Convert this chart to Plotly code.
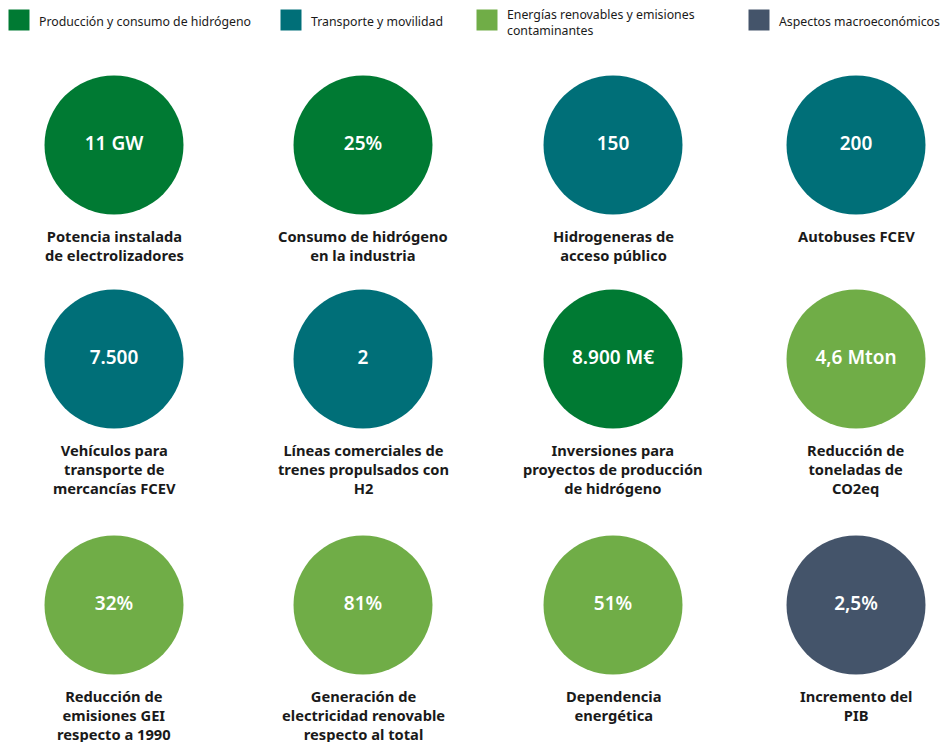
import plotly.graph_objects as go

# ---- data ----
values = ["11 GW", "25%", "150", "200",
          "7.500", "2", "8.900 M€", "4,6 Mton",
          "32%", "81%", "51%", "2,5%"]
labels = ["Potencia instalada<br>de electrolizadores",
          "Consumo de hidrógeno<br>en la industria",
          "Hidrogeneras de<br>acceso público",
          "Autobuses FCEV",
          "Vehículos para<br>transporte de<br>mercancías FCEV",
          "Líneas comerciales de<br>trenes propulsados con<br>H2",
          "Inversiones para<br>proyectos de producción<br>de hidrógeno",
          "Reducción de<br>toneladas de<br>CO2eq",
          "Reducción de<br>emisiones GEI<br>respecto a 1990",
          "Generación de<br>electricidad renovable<br>respecto al total",
          "Dependencia<br>energética",
          "Incremento del<br>PIB"]
categories = ["Producción y consumo de hidrógeno",
              "Transporte y movilidad",
              "Energías renovables y emisiones<br>contaminantes",
              "Aspectos macroeconómicos"]
item_category = [0, 0, 1, 1,
                 1, 1, 0, 2,
                 2, 2, 2, 3]

# ---- style / layout ----
cat_colors = ["#007A33", "#006F78", "#70AD47", "#44546A"]
W, H = 949, 742
OFFX, OFFY = 8, 6  # page body offset
col_x = [114, 363, 613, 856]
row_y = [143, 357, 603]
legend_x = [8, 280, 476, 748]
circle_d = 139

fig = go.Figure()

xs, ys, cols = [], [], []
for i in range(len(values)):
    r, c = divmod(i, 4)
    xs.append(col_x[c])
    ys.append(row_y[r])
    cols.append(cat_colors[item_category[i]])

fig.add_trace(go.Scatter(
    x=xs, y=ys, mode="markers+text",
    marker=dict(size=circle_d, color=cols, line=dict(width=0)),
    text=values, textposition="middle center",
    textfont=dict(family="Noto Sans", size=19, color="white", weight=600),
    hoverinfo="skip", showlegend=False,
))

for i, lab in enumerate(labels):
    fig.add_annotation(
        x=xs[i], y=ys[i] + 80, text=lab, showarrow=False,
        xanchor="center", yanchor="top", align="center",
        font=dict(family="Noto Sans", size=14.7, color="#1a1a1a", weight=700),
        borderpad=0,
    )

# legend
fig.add_trace(go.Scatter(
    x=[lx + 11 for lx in legend_x], y=[18] * 4, mode="markers",
    marker=dict(symbol="square", size=21, color=cat_colors, line=dict(width=0)),
    hoverinfo="skip", showlegend=False,
))
for k, cat in enumerate(categories):
    nlines = cat.count("<br>") + 1
    fig.add_annotation(
        x=legend_x[k] + 30, y=19 + (nlines - 1) * 1.5, text=cat, showarrow=False,
        xanchor="left", yanchor="middle", align="left",
        font=dict(family="Noto Sans", size=12.3, color="#1a1a1a"),
        borderpad=0,
    )

fig.update_layout(
    width=W, height=H, margin=dict(l=0, r=0, t=0, b=0),
    paper_bgcolor="white", plot_bgcolor="white",
    xaxis=dict(range=[OFFX, W + OFFX], visible=False, fixedrange=True),
    yaxis=dict(range=[H + OFFY, OFFY], visible=False, fixedrange=True),
)

fig.write_html("out.html")
